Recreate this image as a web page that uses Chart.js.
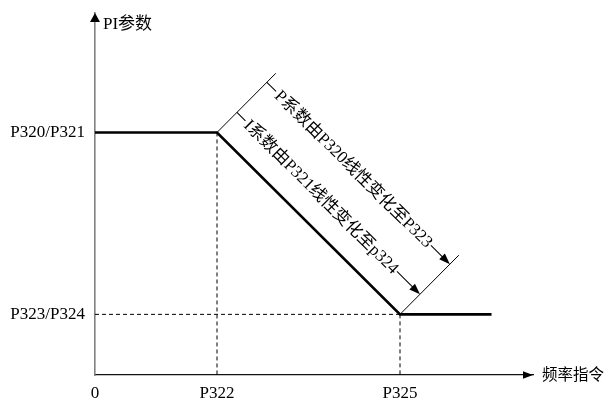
<!DOCTYPE html>
<html><head><meta charset="utf-8">
<script src="https://cdn.jsdelivr.net/npm/chart.js@4/dist/chart.umd.min.js"></script>
<style>html,body{margin:0;padding:0;background:#fff}#wrap{width:609px;height:401px}</style>
</head><body><div id="wrap"><canvas id="c" width="609" height="401"></canvas></div>
<script>
// ---- data ----
const xTickValues = [0, 4, 10];
const xTickLabels = ['0', 'P322', 'P325'];
const yTickValues = [1, 4];
const yTickLabels = ['P323/P324', 'P320/P321'];
const curveX = [0, 4, 10, 13];
const curveY = [4, 4, 1, 1];
const guide1X = [0, 10],  guide1Y = [1, 1];
const guide2X = [4, 4],   guide2Y = [4, 0];
const guide3X = [10, 10], guide3Y = [1, 0];
const xAxisTitle = '频率指令';
const yAxisTitle = 'PI参数';
const annotP = 'P系数由P320线性变化至P323';
const annotI = 'I系数由P321线性变化至p324';
const xMax = 14.36, yMax = 5.97;

const FONT = "'Liberation Serif', 'Noto Sans CJK SC', serif";
Chart.defaults.font.family = FONT;
Chart.defaults.color = '#000';

const pts = (xs, ys) => xs.map((x, i) => ({x: x, y: ys[i]}));
const guide = (xs, ys) => ({data: pts(xs, ys), showLine: true, borderColor: '#000', borderWidth: 1,
  borderDash: [4, 3], pointRadius: 0, fill: false, order: 2});

function arrowHead(ctx, tx, ty, ang, len, half) {
  ctx.save(); ctx.translate(tx, ty); ctx.rotate(ang);
  ctx.beginPath(); ctx.moveTo(0, 0); ctx.lineTo(-len, -half); ctx.lineTo(-len, half); ctx.closePath();
  ctx.fillStyle = '#000'; ctx.fill(); ctx.restore();
}

const deco = {
  id: 'deco',
  afterDraw(chart) {
    const ctx = chart.ctx, xs = chart.scales.x, ys = chart.scales.y, a = chart.chartArea;
    ctx.save();
    // axis arrows
    arrowHead(ctx, a.left, a.top, -Math.PI / 2, 9, 5);
    arrowHead(ctx, a.right, a.bottom, 0, 10, 3.8);
    // axis titles
    ctx.fillStyle = '#000';
    ctx.textBaseline = 'middle'; ctx.textAlign = 'left';
    ctx.font = '17px ' + FONT;
    ctx.fillText(yAxisTitle, a.left + 8, a.top + 12);
    ctx.font = '15.5px ' + FONT;
    ctx.fillText(xAxisTitle, a.right + 9, a.bottom + 1);
    // dimension annotations
    const b1 = {x: xs.getPixelForValue(curveX[1]), y: ys.getPixelForValue(curveY[1])};
    const b2 = {x: xs.getPixelForValue(curveX[2]), y: ys.getPixelForValue(curveY[2])};
    const L = Math.hypot(b2.x - b1.x, b2.y - b1.y);
    const d = {x: (b2.x - b1.x) / L, y: (b2.y - b1.y) / L};
    const n = {x: d.y, y: -d.x};
    const ext = 59 * Math.SQRT2;
    ctx.strokeStyle = '#000'; ctx.lineWidth = 1;
    [b1, b2].forEach(b => {
      ctx.beginPath(); ctx.moveTo(b.x, b.y); ctx.lineTo(b.x + n.x * ext, b.y + n.y * ext); ctx.stroke();
    });
    const ang = Math.atan2(d.y, d.x);
    ctx.font = '17px ' + FONT;
    [[50, annotP, 15], [20, annotI, 14]].forEach(([off, txt, start]) => {
      const o = off * Math.SQRT2;
      ctx.save();
      ctx.translate(b1.x + n.x * o, b1.y + n.y * o);
      ctx.rotate(ang);
      const w = ctx.measureText(txt).width;
      ctx.beginPath(); ctx.moveTo(0, 0); ctx.lineTo(start - 2, 0); ctx.stroke();
      ctx.textAlign = 'left'; ctx.textBaseline = 'middle';
      ctx.fillText(txt, start, 1);
      ctx.beginPath(); ctx.moveTo(start + w + 1, 0); ctx.lineTo(L - 8, 0); ctx.stroke();
      arrowHead(ctx, L, 0, 0, 11, 4);
      ctx.restore();
    });
    ctx.restore();
  }
};

new Chart(document.getElementById('c'), {
  type: 'scatter',
  data: {datasets: [
    {data: pts(curveX, curveY), showLine: true, borderColor: '#000', borderWidth: 2.6, pointRadius: 0, fill: false, order: 1},
    guide(guide1X, guide1Y), guide(guide2X, guide2Y), guide(guide3X, guide3Y)
  ]},
  options: {
    responsive: false, animation: false,
    layout: {padding: {top: 13, right: 76, left: 0, bottom: 0}},
    plugins: {legend: {display: false}, tooltip: {enabled: false}},
    scales: {
      x: {type: 'linear', min: 0, max: xMax,
        afterBuildTicks: s => { s.ticks = xTickValues.map(v => ({value: v})); },
        afterFit: s => { s.height = 26; s.paddingLeft = 0; s.paddingRight = 0; },
        ticks: {callback: (v, i) => xTickLabels[i], autoSkip: false, maxRotation: 0, padding: 8, font: {size: 17}, color: '#000'},
        grid: {display: false, drawTicks: false},
        border: {color: '#111', width: 1.2}},
      y: {type: 'linear', min: 0, max: yMax,
        afterBuildTicks: s => { s.ticks = yTickValues.map(v => ({value: v})); },
        afterFit: s => { s.width = 95; s.paddingTop = 0; s.paddingBottom = 0; },
        ticks: {callback: (v, i) => yTickLabels[i], autoSkip: false, padding: 10, font: {size: 17}, color: '#000'},
        grid: {display: false, drawTicks: false},
        border: {color: '#808080', width: 1.6}}
    }
  },
  plugins: [deco]
});
</script></body></html>
